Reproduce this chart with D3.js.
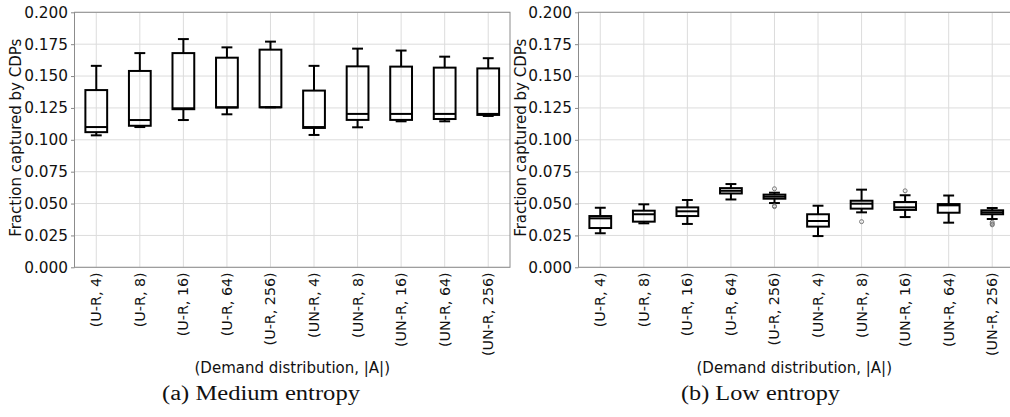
<!DOCTYPE html>
<html>
<head>
<meta charset="utf-8">
<script src="https://cdn.jsdelivr.net/npm/d3@7"></script>
<style>
  html, body { margin: 0; padding: 0; background: #fff; }
  svg { display: block; }
</style>
</head>
<body>
<svg id="chart" width="1010" height="417"></svg>
<script>
// ---------- data ----------
const categories = ["(U-R, 4)", "(U-R, 8)", "(U-R, 16)", "(U-R, 64)", "(U-R, 256)",
                    "(UN-R, 4)", "(UN-R, 8)", "(UN-R, 16)", "(UN-R, 64)", "(UN-R, 256)"];
const yTicks = [0, 0.025, 0.05, 0.075, 0.1, 0.125, 0.15, 0.175, 0.2];

// (a) Medium entropy
const medWhiskerLow  = [0.1035, 0.1100, 0.1155, 0.1200, 0.1255, 0.1038, 0.1098, 0.1145, 0.1145, 0.1187];
const medQ1          = [0.1060, 0.1110, 0.1240, 0.1253, 0.1255, 0.1093, 0.1156, 0.1156, 0.1163, 0.1195];
const medMedian      = [0.1100, 0.1155, 0.1247, 0.1255, 0.1255, 0.1100, 0.1203, 0.1203, 0.1203, 0.1203];
const medQ3          = [0.1390, 0.1540, 0.1680, 0.1644, 0.1707, 0.1386, 0.1576, 0.1574, 0.1566, 0.1560];
const medWhiskerHigh = [0.1580, 0.1680, 0.1790, 0.1725, 0.1770, 0.1580, 0.1715, 0.1700, 0.1652, 0.1640];
const medOutliers    = [[], [], [], [], [], [], [], [], [], []];

// (b) Low entropy
const lowWhiskerLow  = [0.0267, 0.0345, 0.0340, 0.0532, 0.0504, 0.0245, 0.0431, 0.0394, 0.0350, 0.0379];
const lowQ1          = [0.0308, 0.0358, 0.0402, 0.0579, 0.0538, 0.0319, 0.0460, 0.0450, 0.0428, 0.0416];
const lowMedian      = [0.0384, 0.0416, 0.0439, 0.0600, 0.0554, 0.0363, 0.0499, 0.0470, 0.0486, 0.0431];
const lowQ3          = [0.0402, 0.0444, 0.0470, 0.0621, 0.0570, 0.0416, 0.0522, 0.0512, 0.0496, 0.0447];
const lowWhiskerHigh = [0.0467, 0.0494, 0.0528, 0.0653, 0.0585, 0.0483, 0.0609, 0.0565, 0.0563, 0.0465];
const lowOutliers    = [[], [], [], [], [0.0616, 0.0476, 0.0482], [], [0.0358], [0.0600], [], [0.0353, 0.0340, 0.0333]];

const panels = [
  { x0: 74.5, x1: 510, caption: "(a) Medium entropy", captionX: 261, captionW: 198,
    wl: medWhiskerLow, q1: medQ1, med: medMedian, q3: medQ3, wh: medWhiskerHigh, out: medOutliers, ylabX: 16 },
  { x0: 578.5, x1: 1014, caption: "(b) Low entropy", captionX: 760.5, captionW: 159,
    wl: lowWhiskerLow, q1: lowQ1, med: lowMedian, q3: lowQ3, wh: lowWhiskerHigh, out: lowOutliers, ylabX: 521 }
];

const yTop = 12.3, yBot = 267.3;
const svg = d3.select("#chart");
const FONT = "'DejaVu Sans', sans-serif";

panels.forEach(p => {
  const g = svg.append("g");
  const x = d3.scaleBand().domain(categories).range([p.x0, p.x1]).paddingInner(0).paddingOuter(0);
  const y = d3.scaleLinear().domain([0, 0.2]).range([yBot, yTop]);
  const bw = x.bandwidth() * 0.5;

  // grid
  g.append("g").selectAll("line.h").data(yTicks).join("line")
    .attr("x1", p.x0).attr("x2", p.x1)
    .attr("y1", d => y(d)).attr("y2", d => y(d))
    .attr("stroke", "#dcdcdc").attr("stroke-width", 1);
  g.append("g").selectAll("line.v").data(categories).join("line")
    .attr("x1", d => x(d) + x.bandwidth() / 2).attr("x2", d => x(d) + x.bandwidth() / 2)
    .attr("y1", yTop).attr("y2", yBot)
    .attr("stroke", "#dcdcdc").attr("stroke-width", 1);

  // axes
  const yAxis = d3.axisLeft(y).tickValues(yTicks).tickFormat(d3.format(".3f")).tickSize(3.5).tickPadding(3);
  const ya = g.append("g").attr("transform", `translate(${p.x0},0)`).call(yAxis);
  ya.select(".domain").remove();
  ya.selectAll(".tick line").attr("stroke", "#888");
  ya.selectAll(".tick text").attr("font-family", FONT).attr("font-size", "15.3px").attr("fill", "#111");

  const xAxis = d3.axisBottom(x).tickSize(0).tickPadding(0);
  const xa = g.append("g").attr("transform", `translate(0,${yBot})`).call(xAxis);
  xa.select(".domain").remove();
  xa.selectAll(".tick text")
    .attr("font-family", FONT).attr("font-size", "14.3px").attr("fill", "#111")
    .attr("transform", "rotate(-90)")
    .attr("text-anchor", "end")
    .attr("x", -5).attr("y", 0).attr("dy", "0.35em");

  // frame
  g.append("rect").attr("x", p.x0).attr("y", yTop).attr("width", p.x1 - p.x0).attr("height", yBot - yTop)
    .attr("fill", "none").attr("stroke", "#8c8c8c").attr("stroke-width", 1);

  // boxes
  const boxes = g.append("g").selectAll("g.box").data(categories).join("g");
  const cx = d => x(d) + x.bandwidth() / 2;
  const st = { stroke: "#000", w: 2 };
  boxes.append("line").attr("x1", cx).attr("x2", cx)
    .attr("y1", (d, i) => y(p.q3[i])).attr("y2", (d, i) => y(p.wh[i]))
    .attr("stroke", st.stroke).attr("stroke-width", st.w);
  boxes.append("line").attr("x1", cx).attr("x2", cx)
    .attr("y1", (d, i) => y(p.q1[i])).attr("y2", (d, i) => y(p.wl[i]))
    .attr("stroke", st.stroke).attr("stroke-width", st.w);
  boxes.append("line").attr("x1", d => cx(d) - bw / 4).attr("x2", d => cx(d) + bw / 4)
    .attr("y1", (d, i) => y(p.wh[i])).attr("y2", (d, i) => y(p.wh[i]))
    .attr("stroke", st.stroke).attr("stroke-width", st.w);
  boxes.append("line").attr("x1", d => cx(d) - bw / 4).attr("x2", d => cx(d) + bw / 4)
    .attr("y1", (d, i) => y(p.wl[i])).attr("y2", (d, i) => y(p.wl[i]))
    .attr("stroke", st.stroke).attr("stroke-width", st.w);
  boxes.append("rect").attr("x", d => cx(d) - bw / 2).attr("width", bw)
    .attr("y", (d, i) => y(p.q3[i])).attr("height", (d, i) => y(p.q1[i]) - y(p.q3[i]))
    .attr("fill", "none").attr("stroke", st.stroke).attr("stroke-width", st.w);
  boxes.append("line").attr("x1", d => cx(d) - bw / 2).attr("x2", d => cx(d) + bw / 2)
    .attr("y1", (d, i) => y(p.med[i])).attr("y2", (d, i) => y(p.med[i]))
    .attr("stroke", st.stroke).attr("stroke-width", st.w);
  boxes.each(function (d, i) {
    d3.select(this).selectAll("circle").data(p.out[i]).join("circle")
      .attr("cx", cx(d)).attr("cy", v => y(v)).attr("r", 2)
      .attr("fill", "none").attr("stroke", "#777").attr("stroke-width", 1);
  });

  // y label
  g.append("text")
    .attr("transform", `translate(${p.ylabX},${(yTop + yBot) / 2 - 2}) rotate(-90)`)
    .attr("text-anchor", "middle").attr("dy", "0.35em")
    .attr("font-family", FONT).attr("font-size", "15px").attr("fill", "#111")
    .text("Fraction captured by CDPs");

  // x label
  g.append("text")
    .attr("x", (p.x0 + Math.min(p.x1, 1010)) / 2).attr("y", 368).attr("dy", "0.35em")
    .attr("text-anchor", "middle")
    .attr("font-family", FONT).attr("font-size", "15px").attr("fill", "#111")
    .text("(Demand distribution, |A|)");

  // caption
  g.append("text")
    .attr("x", p.captionX).attr("y", 400)
    .attr("text-anchor", "middle")
    .attr("textLength", p.captionW).attr("lengthAdjust", "spacingAndGlyphs")
    .attr("font-family", "'Liberation Serif', 'DejaVu Serif', serif").attr("font-size", "20px").attr("fill", "#111")
    .text(p.caption);
});
</script>
</body>
</html>
